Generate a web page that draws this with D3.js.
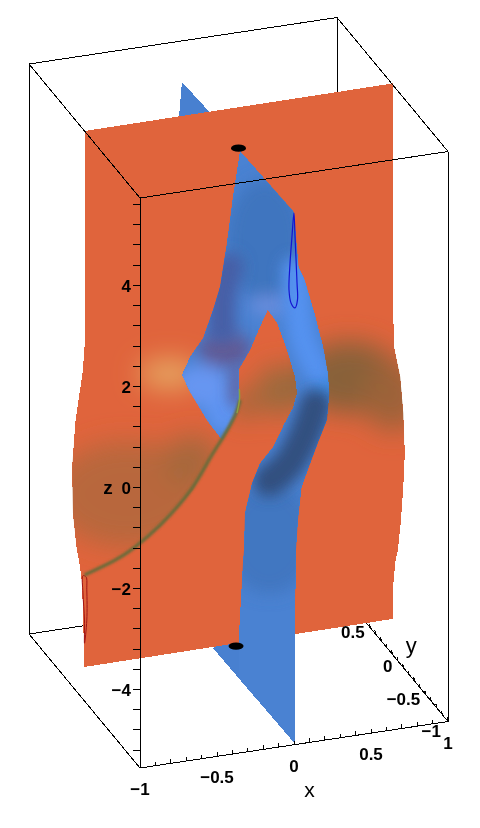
<!DOCTYPE html>
<html lang="en">

<head>
  <meta charset="UTF-8">
  <title>Surfaces</title>
  <script src="https://cdn.jsdelivr.net/npm/d3@7"></script>
  <style>
    body {
      margin: 0;
      background: white;
    }

    svg {
      display: block;
    }

    text {
      font-family: "Liberation Sans", sans-serif;
      fill: black;
    }

    .tick-label {
      font-size: 17px;
      font-weight: 700;
    }

    .edge {
      stroke: black;
      stroke-width: 1;
      fill: none;
      shape-rendering: crispEdges;
    }
  </style>
</head>

<body>
  <div id="my_dataviz"></div>
  <script>
    // all surface points are [x, z] as read on the plane y = 0
    const orangeOutline = [
      [-1, 5.72], [1, 5.74], [1, 1.85], [1.01, 0.52], [1.05, -0.09], [1.07, -0.82], [1.08, -1.61],
      [1.07, -2.28], [1.055, -2.93], [1.035, -3.51], [1.02, -3.7], [1, -4.35], [1, -4.86],
      [-1, -4.89], [-1.016, -3.22], [-1.036, -2.75], [-1.05, -2.55], [-1.075, -1.81], [-1.08, -0.89],
      [-1.06, -0.03], [-1.01, 1], [-1, 1.45], [-1, 2.77]
    ]
    const blueBackTop = [[-0.367, 6.4], [-0.19, 5.73], [-0.15, 5.35], [-0.386, 5.46], [-0.386, 5.72]]
    const blueBackBottom = [[-0.166, -4.9], [0.367, -7.04], [0.367, -4.79], [-0.02, -4.61]]
    const blueFront = [
      [0.01, 4.86], [0.36, 3.49], [0.39, 2.39], [0.43, 2.11], [0.5, 1.35], [0.55, 0.73], [0.58, 0.2],
      [0.59, -0.2], [0.575, -0.72], [0.516, -1.15], [0.45, -1.66], [0.41, -1.98], [0.386, -2.62],
      [0.373, -3.21], [0.367, -4.87], [0.367, -7.04], [0, -5.57], [0, -4.88], [0.03, -3.25],
      [0.036, -3.05], [0.042, -2.32], [0.088, -1.75], [0.14, -1.38], [0.224, -1.1], [0.3, -0.66],
      [0.354, -0.38], [0.38, -0.1], [0.367, 0.22], [0.315, 0.78], [0.25, 1.35], [0.19, 1.63],
      [0.14, 1.32], [0.075, 0.89], [0, 0.53], [0, -0.12], [-0.01, -0.32], [-0.055, -0.57],
      [-0.107, -0.81], [-0.205, -0.37], [-0.315, 0.24], [-0.367, 0.6], [-0.315, 0.93], [-0.23, 1.27],
      [-0.166, 1.79], [-0.12, 2.23], [-0.075, 3.08], [-0.036, 3.97]
    ]
    const foldLine = [
      [-1, -3.07], [-0.79, -2.87], [-0.69, -2.71], [-0.51, -2.34], [-0.295, -1.71], [-0.185, -1.11],
      [-0.1, -0.77], [-0.01, -0.32], [0.01, -0.07]
    ]
    const foldTip = [[-0.01, -0.32], [0.01, -0.07], [0.005, 0.15]]
    const blueContour = [
      [0.36, 3.47], [0.347, 3], [0.334, 2.46], [0.328, 1.96], [0.341, 1.7], [0.367, 1.59],
      [0.383, 1.74], [0.38, 2.08], [0.367, 3]
    ]
    const redContour = [
      [-1.01, -3.08], [-1.01, -3.42], [-1, -3.96], [-1, -4.42], [-0.985, -3.97], [-0.985, -3.37], [-0.99, -3.11]
    ]
    const blackSpots = [[0, 4.92], [-0.016, -4.93]]

    // shaded areas: centre x, centre z, half width in x, half height in z
    const orangeShades = [
      [0.72, 0.05, 0.33, 0.72], [1, -0.45, 0.2, 0.7], [0.27, 0, 0.16, 0.5], [0.04, -0.18, 0.06, 0.3], [-0.45, 0.66, 0.2, 0.3]
    ]
    const orangeTones = ["#84613a", "#9c6238", "#986a3c", "#86683a", "#e6a862"]
    const leftShades = [[-0.72, -1.6, 0.5, 1.05], [-0.3, -1.1, 0.18, 0.5]]
    const leftTones = ["#b0693c", "#a0683c"]
    const blueShades = [
      [0.17, 3.03, 0.25, 1.2], [0.2, 1.72, 0.13, 0.2], [0.56, -0.03, 0.05, 0.35], [-0.09, 0.97, 0.18, 0.36],
      [-0.24, 0.33, 0.18, 0.42], [-0.1, -0.32, 0.12, 0.36], [0.2, -2.9, 0.3, 1.1]
    ]
    const blueTones = ["#3e73bc", "#6d8fdf", "#3890ea", "#645690", "#6a98f4", "#6096f4", "#4076bf"]
    // shading that follows the ribbon
    const lightBand = [[0.367, 2.34], [0.42, 0.93], [0.516, 0.29]]
    const navyBand = [[0.2, -1.75], [0.32, -1.5], [0.43, -0.96], [0.5, -0.4]]
    const darkBand = [[-0.06, 2.6], [-0.107, 2], [-0.107, 1.4]]
    const purpleBand = [[-0.015, 0.5], [-0.02, -0.1]]

    const zTicks = d3.range(-26, 29, 2).map(d => d / 5)
    const zLabels = [-4, -2, 0, 2, 4]
    const xTicks = d3.range(-10, 11).map(d => d / 10)
    const yTicks = d3.range(-10, 11).map(d => d / 10)
    const xLabels = [-1, -0.5, 0, 0.5, 1]
    const yLabels = [-1, -0.5, 0, 0.5]

    const width = 480
    const height = 828
    const zMin = -5.564
    const zMax = 5.72

    const xAcross = d3.scaleLinear().domain([-1, 1]).range([140, 448])
    const xRise = d3.scaleLinear().domain([-1, 1]).range([0, -46.5])
    const yAcross = d3.scaleLinear().domain([-1, 1]).range([0, -111])
    const yRise = d3.scaleLinear().domain([-1, 1]).range([0, -134])
    const zScale = d3.scaleLinear().domain([zMin, zMax]).range([768, 198])

    const project = (x, y, z) => [xAcross(x) + yAcross(y), zScale(z) + xRise(x) + yRise(y)]
    const onSheet = d => project(d[0], 0, d[1])
    const minus = n => String(n).replace('-', '\u2212')

    const svg = d3.select("#my_dataviz")
      .append("svg")
      .attr("width", width)
      .attr("height", height)

    const defs = svg.append('defs')
    // filter area is the whole page, a nearly straight path has almost no box of its own
    const addBlur = (id, amount) => defs.append('filter')
      .attr('id', id)
      .attr('filterUnits', 'userSpaceOnUse')
      .attr('x', 0).attr('y', 0).attr('width', width).attr('height', height)
      .append('feGaussianBlur').attr('stdDeviation', amount)
    addBlur('soft', 13)
    addBlur('softBlue', 8)
    addBlur('band', 7)
    addBlur('foldBlur', 1.3)

    const sheetPath = d3.line().x(d => onSheet(d)[0]).y(d => onSheet(d)[1])
    const smoothPath = d3.line().x(d => onSheet(d)[0]).y(d => onSheet(d)[1]).curve(d3.curveCatmullRom)
    const basisPath = d3.line().x(d => onSheet(d)[0]).y(d => onSheet(d)[1]).curve(d3.curveBasis)
    const loopPath = d3.line().x(d => onSheet(d)[0]).y(d => onSheet(d)[1]).curve(d3.curveCatmullRomClosed)
    const closed = pts => sheetPath(pts) + 'Z'

    defs.append('clipPath').attr('id', 'clipOrange')
      .append('path').attr('d', closed(orangeOutline))
    defs.append('clipPath').attr('id', 'clipBlue')
      .append('path').attr('d', closed(blueFront))
    // area above the fold, the brown on the left stops sharply there
    defs.append('clipPath').attr('id', 'clipFold')
      .append('path').attr('d', closed([[-1.3, -3.3], ...foldLine, [0.01, 2], [-1.3, 2]]))

    const edge = (g, a, b) => g.append('line')
      .attr('class', 'edge')
      .attr('x1', project(...a)[0]).attr('y1', project(...a)[1])
      .attr('x2', project(...b)[0]).attr('y2', project(...b)[1])

    // box edges behind the surfaces
    const back = svg.append('g')
    edge(back, [-1, 1, zMin], [1, 1, zMin])
    edge(back, [1, 1, zMin], [1, -1, zMin])
    edge(back, [-1, 1, zMin], [-1, -1, zMin])
    edge(back, [1, 1, zMin], [1, 1, zMax])
    edge(back, [-1, 1, zMax], [1, 1, zMax])
    edge(back, [-1, 1, zMin], [-1, 1, zMax])

    yTicks.forEach(t => {
      const p = project(1, t, zMin)
      back.append('line').attr('class', 'edge')
        .attr('x1', p[0]).attr('y1', p[1])
        .attr('x2', p[0] - 1).attr('y2', p[1] - 4)
    })

    // blue sheet where it passes behind the orange one
    svg.selectAll('.blue-back')
      .data([blueBackTop, blueBackBottom])
      .enter()
      .append('path')
      .attr('class', 'blue-back')
      .attr('d', closed)
      .attr('fill', '#4880d0')
      .attr('shape-rendering', 'crispEdges')

    svg.append('path')
      .attr('d', closed(orangeOutline))
      .attr('fill', '#e0643c')
      .attr('shape-rendering', 'crispEdges')

    const shades = (parent, blur, list, tones, opacity) => parent
      .append('g')
      .attr('filter', `url(#${blur})`)
      .selectAll('ellipse')
      .data(list)
      .enter()
      .append('ellipse')
      .attr('cx', d => onSheet(d)[0])
      .attr('cy', d => onSheet(d)[1])
      .attr('rx', d => d[2] * 154)
      .attr('ry', d => d[3] * 50.5)
      .attr('fill', (_, i) => tones[i])
      .attr('opacity', opacity)

    const orangeLayer = svg.append('g').attr('clip-path', 'url(#clipOrange)')
    shades(orangeLayer, 'soft', orangeShades, orangeTones, 0.95)
    shades(orangeLayer.append('g').attr('clip-path', 'url(#clipFold)'), 'soft', leftShades, leftTones, 0.85)

    svg.append('path')
      .attr('d', loopPath(redContour))
      .attr('fill', 'none')
      .attr('stroke', '#a01414')
      .attr('stroke-width', 1)

    svg.append('path')
      .attr('d', closed(blueFront))
      .attr('fill', '#4a82d2')
      .attr('shape-rendering', 'crispEdges')

    const blueLayer = svg.append('g').attr('clip-path', 'url(#clipBlue)')
    shades(blueLayer, 'softBlue', blueShades, blueTones, 0.9)

    const band = (points, colour, size) => blueLayer.append('path')
      .attr('d', smoothPath(points))
      .attr('fill', 'none')
      .attr('stroke', colour)
      .attr('stroke-width', size)
      .attr('stroke-linecap', 'round')
      .attr('filter', 'url(#band)')
    band(darkBand, '#465fa6', 28)
    band(lightBand, '#5592f0', 26)
    band(navyBand, '#30507f', 32)
    band(purpleBand, '#6c5a95', 9)

    // the fold where the sheet turns, a soft olive stripe
    svg.append('path')
      .attr('d', basisPath(foldLine))
      .attr('fill', 'none')
      .attr('stroke', '#6c6c3a')
      .attr('stroke-width', 3.5)
      .attr('filter', 'url(#foldBlur)')
    svg.append('path')
      .attr('d', basisPath(foldTip))
      .attr('fill', 'none')
      .attr('stroke', '#8ca040')
      .attr('stroke-width', 1.5)

    svg.append('path')
      .attr('d', loopPath(blueContour))
      .attr('fill', 'none')
      .attr('stroke', '#1414d2')
      .attr('stroke-width', 1.2)

    svg.selectAll('.spot')
      .data(blackSpots)
      .enter()
      .append('ellipse')
      .attr('class', 'spot')
      .attr('cx', d => onSheet(d)[0])
      .attr('cy', d => onSheet(d)[1])
      .attr('rx', 7.5)
      .attr('ry', 3.7)
      .attr('fill', 'black')

    // box edges in front of the surfaces
    const front = svg.append('g')
    edge(front, [-1, -1, zMin], [1, -1, zMin])
    edge(front, [-1, -1, zMin], [-1, -1, zMax])
    edge(front, [1, -1, zMin], [1, -1, zMax])
    edge(front, [-1, -1, zMax], [1, -1, zMax])
    edge(front, [-1, -1, zMax], [-1, 1, zMax])
    edge(front, [1, -1, zMax], [1, 1, zMax])

    const zAxis = d3.axisLeft(zScale)
      .tickValues(zTicks)
      .tickSize(7)
      .tickFormat(d => zLabels.includes(d) ? minus(d) : '')
    front.append('g')
      .attr('transform', 'translate(140, 0)')
      .call(zAxis)
      .call(g => g.select('.domain').remove())
      .call(g => g.selectAll('.tick line').attr('stroke', 'black').attr('shape-rendering', 'crispEdges'))
      .call(g => g.selectAll('.tick text').attr('class', 'tick-label').attr('x', -9).attr('y', 1).attr('dy', '0.35em'))
      .attr('font-family', null)
      .attr('font-size', null)

    xTicks.forEach(t => {
      const p = project(t, -1, zMin)
      front.append('line').attr('class', 'edge')
        .attr('x1', p[0]).attr('y1', p[1])
        .attr('x2', p[0]).attr('y2', p[1] - 4)
    })

    front.selectAll('.x-label')
      .data(xLabels)
      .enter()
      .append('text')
      .attr('class', 'tick-label x-label')
      .attr('text-anchor', 'middle')
      .attr('x', d => project(d, -1, zMin)[0])
      .attr('y', d => project(d, -1, zMin)[1] + 27)
      .text(minus)

    // right edge of these labels sits under the axis point, the -1 moved off the x axis 1
    front.selectAll('.y-label')
      .data(yLabels)
      .enter()
      .append('text')
      .attr('class', 'tick-label y-label')
      .attr('text-anchor', 'end')
      .attr('x', d => project(1, d, zMin)[0] - (d === -1 ? 7 : 0))
      .attr('y', d => project(1, d, zMin)[1] + (d === -1 ? 15 : 17))
      .text(minus)

    const axisTitle = (label, x, y, z, size, weight) => front.append('text')
      .attr('text-anchor', 'middle')
      .attr('x', project(x, y, z)[0])
      .attr('y', project(x, y, z)[1])
      .style('font-size', size)
      .style('font-weight', weight)
      .text(label)

    axisTitle('x', 0.1, -1, -6.64, '21px', 400)
    axisTitle('y', 1, -0.34, -5.08, '22px', 400)
    axisTitle('z', -1, -1, -0.13, '19px', 700).attr('x', 108)
  </script>
</body>

</html>
